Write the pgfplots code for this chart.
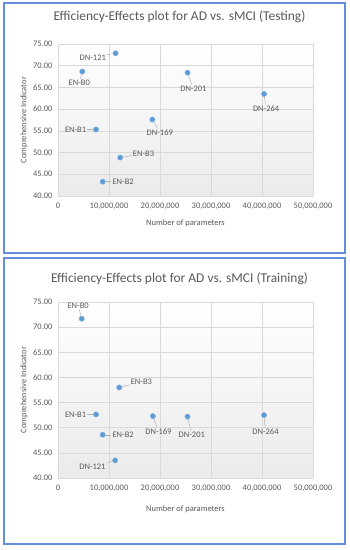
\documentclass[border=0pt]{standalone}
\usepackage{fontspec}
\setmainfont{Carlito}
\usepackage{pgfplots}
\usepackage{pgfplotstable}
\pgfplotsset{compat=1.18}
\definecolor{txtgray}{RGB}{89,89,89}
\definecolor{gridgray}{RGB}{217,217,217}
\definecolor{markfill}{RGB}{91,155,213}
\definecolor{markedge}{RGB}{130,175,225}
\definecolor{framecol}{RGB}{99,142,219}

\pgfplotstableread{
x y label angle anc dist
11300000 72.87 DN-121 190 10 6
4770000 68.65 EN-B0 255 75 5
25400000 68.40 DN-201 290 110 10
40400000 63.50 DN-264 278 98 8
18500000 57.60 DN-169 300 120 7
7450000 55.30 EN-B1 180 0 6
12200000 48.85 EN-B3 10 190 9
8760000 43.30 EN-B2 0 180 6
}\testdata

\pgfplotstableread{
x y label angle anc dist
4650000 71.67 EN-B0 105 285 7
12000000 58.00 EN-B3 15 195 8
7450000 52.64 EN-B1 180 0 6
18600000 52.30 DN-169 290 110 9
25400000 52.20 DN-201 283 103 12
40400000 52.50 DN-264 275 95 10
8760000 48.60 EN-B2 0 180 6
11200000 43.50 DN-121 195 15 6
}\traindata

\pgfplotsset{
  effplot/.style={
    scale only axis,
    width=255bp,
    xmin=0, xmax=50000000,
    ymin=40, ymax=75,
    xtick={0,10000000,20000000,30000000,40000000,50000000},
    ytick={40,45,50,55,60,65,70,75},
    scaled x ticks=false,
    ticklabel style={font=\fontsize{8.5}{10}\selectfont, text=txtgray},
    xticklabel style={yshift=-3bp, /pgf/number format/.cd, fixed, 1000 sep={,}},
    yticklabel style={xshift=-2bp, /pgf/number format/.cd, fixed, fixed zerofill, precision=2},
    /pgf/number format/assume math mode=true,
    major tick length=0pt,
    grid=major,
    grid style={draw=gridgray, line width=0.6pt},
    axis line style={draw=none},
    axis background/.style={top color=white, bottom color=black!8},
    xlabel={Number of parameters},
    ylabel={Comprehensive Indicator},
    label style={font=\fontsize{8.5}{10}\selectfont, text=txtgray},
    xlabel style={at={(0.5,0)}, anchor=center},
    ylabel style={at={(0,0.5)}, anchor=center, rotate=0},
    title style={font=\fontsize{13.5}{16}\selectfont, text=txtgray, at={(0.5,1)}, anchor=center, xshift=-6bp},
    clip=false,
  },
  effpts/.style={
    only marks, mark=*, mark size=2.6pt,
    mark options={draw=markedge, fill=markfill, line width=0.6pt},
    point meta=explicit symbolic,
    visualization depends on={\thisrow{angle}\as\myangle},
    visualization depends on={\thisrow{anc}\as\myanc},
    visualization depends on={\thisrow{dist}\as\mydist},
    nodes near coords={},
    every node near coord/.style={inner sep=0pt, outer sep=2.6pt, minimum size=0pt, anchor=center,
      pin={[pin distance=\mydist bp, anchor=\myanc, pin edge={draw=black!30, line width=0.5pt}, font=\fontsize{8.5}{10}\selectfont, text=txtgray, inner sep=1pt]\myangle:\pgfplotspointmeta}},
  },
}

\begin{document}
\begin{tikzpicture}
\path (0,0) rectangle (350bp,550bp);
\draw[framecol, line width=1.6bp] (4bp,297bp) rectangle (345bp,547bp);
\draw[framecol, line width=1.6bp] (4bp,6bp) rectangle (345bp,292bp);

\begin{axis}[effplot,
  at={(58bp,354bp)}, anchor=south west,
  height=152bp,
  title={Efficiency-Effects plot for AD vs. sMCI (Testing)},
  title style={yshift=21bp},
  xlabel style={yshift=-27bp},
  ylabel style={yshift=34bp},
]
\addplot[effpts] table[x=x, y=y, meta=label] {\testdata};
\end{axis}

\begin{axis}[effplot,
  at={(58bp,72bp)}, anchor=south west,
  height=176bp,
  title={Efficiency-Effects plot for AD vs. sMCI (Training)},
  title style={yshift=17bp},
  xlabel style={yshift=-31bp},
  ylabel style={yshift=34bp},
]
\addplot[effpts] table[x=x, y=y, meta=label] {\traindata};
\end{axis}
\end{tikzpicture}
\end{document}
